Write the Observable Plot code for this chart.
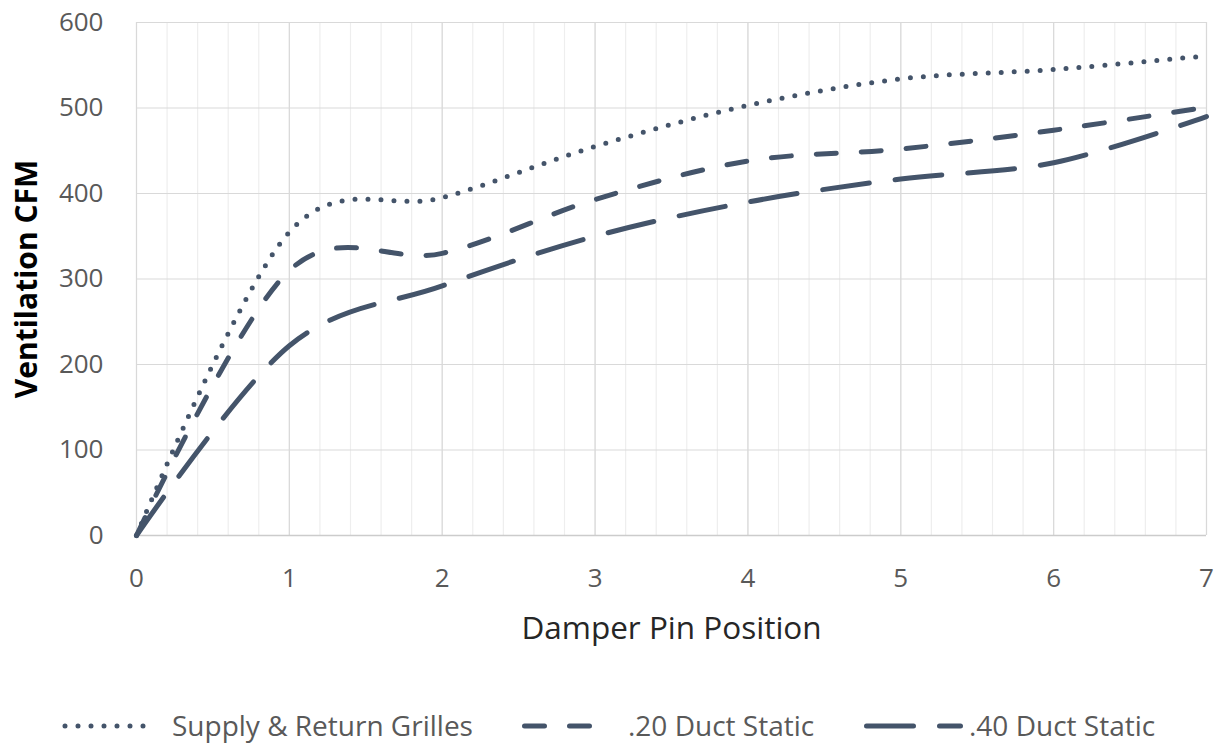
<!DOCTYPE html>
<html>
<head>
<meta charset="utf-8">
<script src="https://cdn.jsdelivr.net/npm/d3@7"></script>
<script src="https://cdn.jsdelivr.net/npm/@observablehq/plot@0.6"></script>
<style>
  body { margin: 0; background: #fff; font-family: "Open Sans", sans-serif; }
  #wrap { position: relative; width: 1225px; height: 749px; overflow: hidden; }
  #legend { position: absolute; left: 0; top: 703px; width: 1225px; height: 44px; }
  .item-svg { position: absolute; top: 0; }
  .item-text { position: absolute; top: 0; height: 44px; line-height: 44px; font-size: 28px; color: #595959; white-space: nowrap; }
</style>
</head>
<body>
<div id="wrap">
  <div id="chart"></div>
  <div id="legend"></div>
</div>
<script>
// ---- data ----
const positions = [0, 1, 2, 3, 4, 5, 6, 7];
const supplyReturn = [0, 355, 395, 455, 503, 534, 545, 561];
const duct20 = [0, 310, 330, 393, 438, 452, 474, 501];
const duct40 = [0, 222, 292, 350, 390, 417, 436, 490];
const seriesNames = ["Supply & Return Grilles", ".20 Duct Static", ".40 Duct Static"];
const yTicks = [0, 100, 200, 300, 400, 500, 600];
const xTicks = [0, 1, 2, 3, 4, 5, 6, 7];

const lineColor = "#44546A";
const dashes = ["0 13", "20 25", "47 26"];
const seriesValues = [supplyReturn, duct20, duct40];

const rows = (vals) => positions.map((p, i) => ({x: p, y: vals[i]}));
const minorX = d3.range(0, 7.0001, 0.2).map(v => Math.round(v * 10) / 10);

const chart = Plot.plot({
  width: 1225,
  height: 660,
  marginLeft: 136,
  marginRight: 19,
  marginTop: 22,
  marginBottom: 125,
  style: { fontFamily: "Open Sans", background: "white", overflow: "visible" },
  x: { domain: [0, 7] },
  y: { domain: [0, 600] },
  marks: [
    Plot.gridX(minorX, { stroke: "#eeeeee", strokeOpacity: 1, strokeWidth: 1.2 }),
    Plot.gridX(xTicks, { stroke: "#d9d9d9", strokeOpacity: 1, strokeWidth: 1.2 }),
    Plot.gridY(yTicks, { stroke: "#d9d9d9", strokeOpacity: 1, strokeWidth: 1.2 }),
    Plot.ruleY([0], { stroke: "#cccccc", strokeWidth: 1.5 }),
    Plot.axisX(xTicks, { tickSize: 0, tickPadding: 33, fontSize: 26, fill: "#595959", label: null, tickFormat: d3.format("d") }),
    Plot.axisY(yTicks, { tickSize: 0, tickPadding: 33, fontSize: 26, fill: "#595959", label: null, tickFormat: d3.format("d") }),
    Plot.text(["Damper Pin Position"], { text: d => d, frameAnchor: "bottom", dy: 103, fontSize: 31.5, fill: "#262626" }),
    Plot.text(["Ventilation CFM"], { text: d => d, frameAnchor: "left", textAnchor: "middle", dx: -109, rotate: -90, fontSize: 30, fontWeight: "bold", fill: "#000000" }),
    ...seriesValues.map((vals, i) =>
      Plot.line(rows(vals), {
        x: "x", y: "y", curve: "cardinal",
        stroke: lineColor, strokeWidth: 5,
        strokeDasharray: dashes[i], strokeLinecap: "round", strokeLinejoin: "round"
      })
    )
  ]
});
document.getElementById("chart").appendChild(chart);

// ---- legend ----
const legend = d3.select("#legend");
const legendSampleX = [65, 522, 864];
const legendSampleW = [85, 73, 99];
const legendTextX = [172, 628, 969];
seriesNames.forEach((name, i) => {
  const svg = legend.append("svg")
    .attr("class", "item-svg")
    .style("left", (legendSampleX[i] - 5) + "px")
    .attr("width", legendSampleW[i] + 10)
    .attr("height", 44);
  svg.append("line")
    .attr("x1", 5 + (i === 0 ? 0 : 2.5)).attr("x2", 5 + legendSampleW[i] - (i === 0 ? 0 : 2.5))
    .attr("y1", 23).attr("y2", 23)
    .attr("stroke", lineColor).attr("stroke-width", 5)
    .attr("stroke-linecap", "round")
    .attr("stroke-dasharray", dashes[i]);
  legend.append("div")
    .attr("class", "item-text")
    .style("left", legendTextX[i] + "px")
    .text(name);
});
</script>
</body>
</html>
